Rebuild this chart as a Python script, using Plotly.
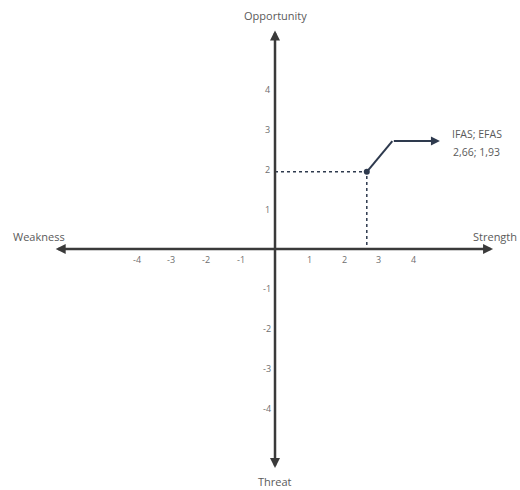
import plotly.graph_objects as go

# ---- data ----
x_ticks = [-4, -3, -2, -1, 1, 2, 3, 4]
y_ticks = [-4, -3, -2, -1, 1, 2, 3, 4]
x_tick_labels = ["-4", "-3", "-2", "-1", "1", "2", "3", "4"]
y_tick_labels = ["-4", "-3", "-2", "-1", "1", "2", "3", "4"]
ifas = 2.66
efas = 1.93
label_title = "IFAS; EFAS"
label_values = "2,66; 1,93"
axis_names = {"right": "Strength", "left": "Weakness", "top": "Opportunity", "bottom": "Threat"}

# ---- layout constants ----
W, H = 520, 490
X_RANGE = [-7.97, 7.10]
Y_RANGE = [-6.03, 6.23]
AX_COL = "#3a3a3a"
LN_COL = "#2e3a4e"
TXT_COL = "#5a5a5a"
TICK_COL = "#6e6e6e"
FONT = "Open Sans"

fig = go.Figure()

# dotted guide lines
fig.add_trace(go.Scatter(x=[0, ifas, ifas], y=[efas, efas, 0], mode="lines",
                         line=dict(color=LN_COL, width=1.5, dash="dot"),
                         hoverinfo="skip", showlegend=False))
# callout first segment
bend_x, bend_y, end_x = 3.40, 2.70, 4.78
fig.add_trace(go.Scatter(x=[ifas, bend_x], y=[efas, bend_y], mode="lines",
                         line=dict(color=LN_COL, width=2),
                         hoverinfo="skip", showlegend=False))
# point
fig.add_trace(go.Scatter(x=[ifas], y=[efas], mode="markers",
                         marker=dict(color=LN_COL, size=6),
                         hoverinfo="skip", showlegend=False))

ann = []
# axes arrows
ann.append(dict(x=6.32, y=0, ax=-6.40, ay=0, xref="x", yref="y", axref="x", ayref="y",
                showarrow=True, arrowhead=2, arrowside="end+start", arrowsize=0.8,
                arrowwidth=2.5, arrowcolor=AX_COL, text=""))
ann.append(dict(x=0, y=5.47, ax=0, ay=-5.52, xref="x", yref="y", axref="x", ayref="y",
                showarrow=True, arrowhead=2, arrowside="end+start", arrowsize=0.8,
                arrowwidth=2.5, arrowcolor=AX_COL, text=""))
# callout arrow
ann.append(dict(x=end_x, y=bend_y, ax=bend_x, ay=bend_y, xref="x", yref="y", axref="x", ayref="y",
                showarrow=True, arrowhead=2, arrowsize=0.9, arrowwidth=2,
                arrowcolor=LN_COL, text=""))
# tick labels
for v, t in zip(x_ticks, x_tick_labels):
    ann.append(dict(x=v, y=0, xref="x", yref="y", text=t, showarrow=False,
                    yshift=-10, font=dict(family=FONT, size=9, color=TICK_COL)))
for v, t in zip(y_ticks, y_tick_labels):
    ann.append(dict(x=0, y=v, xref="x", yref="y", text=t, showarrow=False,
                    xshift=-8, font=dict(family=FONT, size=9, color=TICK_COL)))
# axis names
ann.append(dict(x=0, y=1, xref="x", yref="paper", yanchor="top", yshift=-6, text=axis_names["top"],
                showarrow=False, font=dict(family=FONT, size=11, color=TXT_COL)))
ann.append(dict(x=0, y=0, xref="x", yref="paper", yanchor="bottom", yshift=-1, text=axis_names["bottom"],
                showarrow=False, font=dict(family=FONT, size=11, color=TXT_COL)))
ann.append(dict(x=0, y=0, xref="paper", yref="y", xanchor="left", xshift=11, yshift=13,
                text=axis_names["left"], showarrow=False,
                font=dict(family=FONT, size=11, color=TXT_COL)))
ann.append(dict(x=5.68, y=0, xref="x", yref="y", xanchor="left", yshift=13,
                text=axis_names["right"], showarrow=False,
                font=dict(family=FONT, size=11, color=TXT_COL)))
# point label
ann.append(dict(x=5.85, y=2.66, xref="x", yref="y", text=label_title, showarrow=False,
                yshift=9, font=dict(family=FONT, size=10.5, color=TXT_COL)))
ann.append(dict(x=5.85, y=2.66, xref="x", yref="y", text=label_values, showarrow=False,
                yshift=-9, font=dict(family=FONT, size=10.5, color=TXT_COL)))

fig.update_layout(
    width=W, height=H,
    margin=dict(l=0, r=0, t=0, b=0),
    paper_bgcolor="white", plot_bgcolor="white",
    xaxis=dict(range=X_RANGE, visible=False, fixedrange=True),
    yaxis=dict(range=Y_RANGE, visible=False, fixedrange=True),
    annotations=ann,
    showlegend=False,
)

fig.write_html("out.html", config={"displayModeBar": False},
               post_script="document.body.style.margin='0';document.body.style.overflow='hidden';")
